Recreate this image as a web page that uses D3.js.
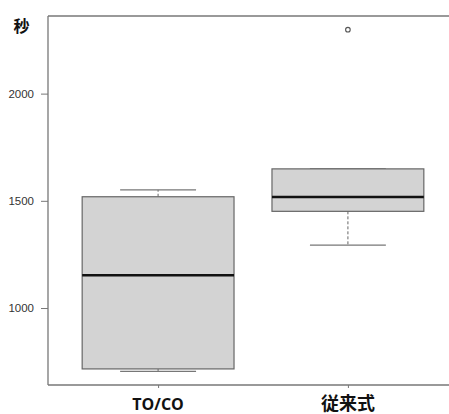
<!DOCTYPE html>
<html><head><meta charset="utf-8">
<script src="https://cdn.jsdelivr.net/npm/d3@7"></script>
<style>body{margin:0;background:#fff}svg{display:block}</style>
</head><body>
<script>
const categories = ["TO/CO", "従来式"];
const whiskerLow = [705, 1293];
const q1 = [716, 1451];
const medians = [1153, 1518];
const q3 = [1519, 1649];
const whiskerHigh = [1551, 1649];
const outliers = [[], [2298]];
const yTicks = [1000, 1500, 2000];
const yLabel = "秒";

const W = 449, H = 414;
const svg = d3.select("body").append("svg").attr("width", W).attr("height", H);

const x = d3.scaleLinear().domain([0.42, 2.58]).range([48, 458]);
const y = d3.scaleLinear().domain([641, 2362]).range([385, 16]);

const grey = "#777";
// frame
svg.append("line").attr("x1", 48).attr("x2", W).attr("y1", y(2362)).attr("y2", y(2362)).attr("stroke", grey).attr("stroke-width", 1.3);
svg.append("line").attr("x1", 48).attr("x2", W).attr("y1", y(641)).attr("y2", y(641)).attr("stroke", grey).attr("stroke-width", 1.3);
svg.append("line").attr("x1", 48).attr("x2", 48).attr("y1", y(2362)).attr("y2", y(641)).attr("stroke", grey).attr("stroke-width", 1.3);

// y axis ticks
const yAxis = d3.axisLeft(y).tickValues(yTicks).tickSize(7).tickPadding(7).tickFormat(d3.format("d"));
const ga = svg.append("g").attr("transform", "translate(48,0)").call(yAxis);
ga.select(".domain").remove();
ga.selectAll("line").attr("stroke", grey);
ga.selectAll("text").attr("font-family", "Liberation Sans, Arial, sans-serif").attr("font-size", 11.5).attr("fill", "#333");

// x ticks
const xb = d3.axisBottom(x).tickValues([1, 2]).tickSize(3).tickFormat("");
const gx = svg.append("g").attr("transform", `translate(0,${y(641)})`).call(xb);
gx.select(".domain").remove();
gx.selectAll("line").attr("stroke", grey);

categories.forEach((c, i) => {
  const cx = x(i + 1);
  const bw = x(0.4) - x(0);
  const cw = x(0.2) - x(0);
  const g = svg.append("g");
  // whiskers
  g.append("line").attr("x1", cx).attr("x2", cx).attr("y1", y(q3[i])).attr("y2", y(whiskerHigh[i]))
    .attr("stroke", "#666").attr("stroke-dasharray", "3,2");
  g.append("line").attr("x1", cx).attr("x2", cx).attr("y1", y(q1[i])).attr("y2", y(whiskerLow[i]))
    .attr("stroke", "#666").attr("stroke-dasharray", "3,2");
  g.append("line").attr("x1", cx - cw).attr("x2", cx + cw).attr("y1", y(whiskerHigh[i])).attr("y2", y(whiskerHigh[i])).attr("stroke", "#777").attr("stroke-width", 1.2);
  g.append("line").attr("x1", cx - cw).attr("x2", cx + cw).attr("y1", y(whiskerLow[i])).attr("y2", y(whiskerLow[i])).attr("stroke", "#777").attr("stroke-width", 1.2);
  // box
  g.append("rect").attr("x", cx - bw).attr("width", 2 * bw)
    .attr("y", y(q3[i])).attr("height", y(q1[i]) - y(q3[i]))
    .attr("fill", "#d3d3d3").attr("stroke", "#666").attr("stroke-width", 1.2);
  g.append("line").attr("x1", cx - bw).attr("x2", cx + bw).attr("y1", y(medians[i])).attr("y2", y(medians[i]))
    .attr("stroke", "#111").attr("stroke-width", 2.6);
  outliers[i].forEach(v => {
    g.append("circle").attr("cx", cx).attr("cy", y(v)).attr("r", 2.3).attr("fill", "none").attr("stroke", "#555").attr("stroke-width", 1.1);
  });
  g.append("text").attr("x", cx).attr("y", 410).attr("text-anchor", "middle")
    .attr("font-family", i === 0 ? "Open Sans, sans-serif" : "Noto Sans CJK JP, sans-serif")
    .attr("font-weight", "bold").attr("font-size", i === 0 ? 16 : 18).attr("fill", "#111").text(c);
});

svg.append("text").attr("x", 21.5).attr("y", 32).attr("text-anchor", "middle")
  .attr("font-family", "Noto Sans CJK JP, sans-serif").attr("font-weight", "bold").attr("font-size", 16).attr("fill", "#111").text(yLabel);
</script>
</body></html>
